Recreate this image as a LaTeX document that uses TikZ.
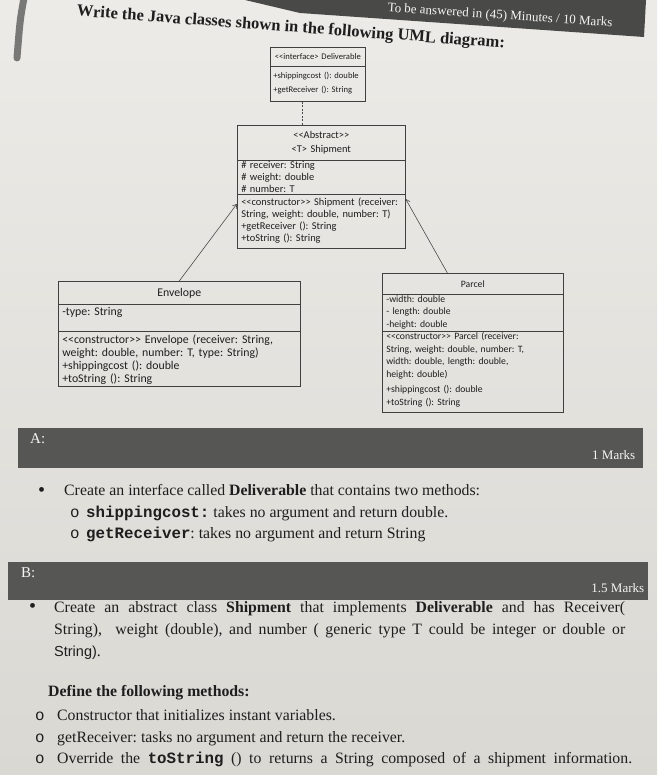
\documentclass[tikz,border=0pt]{standalone}
\usepackage{fontspec}
\setmainfont{Liberation Serif}
\setsansfont{Liberation Sans}
\setmonofont{Liberation Mono}
\newfontfamily\umlfont{Carlito}
\usetikzlibrary{shapes.multipart,arrows.meta,calc}
\definecolor{paperhi}{HTML}{ECEBE7}
\definecolor{paperlo}{HTML}{D9D8D3}
\definecolor{barcol}{HTML}{565654}
\definecolor{ink}{HTML}{1E1E1E}
\frenchspacing
\newcommand{\codeword}[1]{{\ttfamily\bfseries #1}}
\newcommand{\umlsize}[2]{\umlfont\fontsize{#1}{#2}\selectfont}
% one size per class box (set again in every part)
\newcommand{\dlvf}{\umlsize{8.6}{14}}
\newcommand{\shpf}{\umlsize{10.4}{12}}
\newcommand{\envf}{\umlsize{11.8}{13}}
\newcommand{\prcf}{\umlsize{9.7}{12.5}}
\newcommand{\umlmid}[1]{\makebox[\hsize]{#1}}
\tikzset{
  umlclass/.style={rectangle split, rectangle split parts=3, draw=ink!85, line width=0.6pt,
    text=ink, align=left, inner xsep=4pt, inner ysep=1.5pt, anchor=north west},
  marksbar/.style={fill=barcol, anchor=north west, inner sep=0pt},
  barlabel/.style={text=white!92!gray, inner sep=0pt},
  bodytext/.style={text=ink, font=\fontsize{15.8}{22}\selectfont, anchor=base west, inner sep=0pt},
  inherit/.style={draw=ink!80, line width=0.6pt, -{Straight Barb[length=4pt,width=5pt]}},
}
\begin{document}
\begin{tikzpicture}[x=1pt,y=-1pt]
\useasboundingbox (0,0) rectangle (657,775);
\shade[top color=paperhi, bottom color=paperlo] (0,0) rectangle (657,775);
% edge of the page
\draw[line width=7pt, barcol!80, line cap=round] (24,-2) .. controls (20,20) .. (17,58);
% header strip
\fill[barcol!85!black] (245,0) -- (646,0) -- (644,37) -- (300,13) -- cycle;
\node[rotate=-3.8, barlabel, font=\fontsize{13}{15}\selectfont] (time) at (500,16) {To be answered in (45) Minutes / 10 Marks};
\node[rotate=-4.3, text=ink, font=\bfseries\fontsize{16.5}{18}\selectfont] (title) at (291,28) {Write the Java classes shown in the following UML diagram:};

% UML diagram
\node[umlclass, rectangle split parts=2, inner xsep=3pt, text width=89pt, font=\dlvf] (dlv) at (270,47)
  {\umlmid{\rule{0pt}{10pt}<<interface> Deliverable\rule[-5pt]{0pt}{5pt}}
   \nodepart{second}\dlvf\rule{0pt}{11pt}\mbox{+shippingcost (): double}\\ \mbox{+getReceiver (): String}\rule[-7pt]{0pt}{7pt}};
\node[umlclass, text width=160pt, font=\shpf] (shp) at (237,125)
  {\umlmid{\rule{0pt}{11pt}<<Abstract>>}\\[2pt] \umlmid{<T> Shipment\rule[-6pt]{0pt}{6pt}}
   \nodepart{second}\shpf\baselineskip=11.5pt \# receiver: String\\ \# weight: double\\ \# number: T
   \nodepart{third}\shpf\rule{0pt}{9pt}<<constructor>> Shipment (receiver:\\ String, weight: double, number: T)\\ +getReceiver (): String\\ +toString (): String\rule[-5pt]{0pt}{5pt}};
\node[umlclass, text width=234pt, font=\envf] (envp) at (58,281)
  {\umlmid{\rule{0pt}{13pt}Envelope\rule[-6pt]{0pt}{6pt}}
   \nodepart{second}\envf\rule{0pt}{10pt}-type: String\rule[-14pt]{0pt}{14pt}
   \nodepart{third}\envf\rule{0pt}{10pt}<<constructor>> Envelope (receiver: String,\\ weight: double, number: T, type: String)\\ +shippingcost (): double\\ +toString (): String};
\node[umlclass, text width=173pt, font=\prcf] (prc) at (382,273)
  {\umlmid{\rule{0pt}{12pt}Parcel\rule[-5pt]{0pt}{5pt}}
   \nodepart{second}\prcf -width: double\\ - length: double\\ -height: double
   \nodepart{third}\prcf <<constructor>> Parcel (receiver:\\ String, weight: double, number: T,\\ width: double, length: double,\\ height: double)\\[3pt] +shippingcost (): double\\ +toString (): String\rule[-5pt]{0pt}{5pt}};
\draw[dash pattern=on 2pt off 1.5pt, ink!80, line width=0.6pt] ($(dlv.south west)!0.34!(dlv.south east)$) coordinate (dtop) -- (dtop |- shp.north);
\draw[inherit] (envp.north) -- ($(shp.south west)!0.36!(shp.north west)$);
\draw[inherit] ($(prc.north west)!0.36!(prc.north east)$) -- ($(shp.south east)!0.4!(shp.north east)$);

% part A
\node[marksbar, minimum width=625pt, minimum height=40pt] (barA) at (18,428) {};
\node[barlabel, font=\fontsize{15}{17}\selectfont, anchor=north west] (labA) at ($(barA.north west)+(12,5)$) {A:};
\node[barlabel, font=\fontsize{13}{15}\selectfont, anchor=south east] (marksA) at ($(barA.south east)+(-8,-9)$) {1 Marks};
\node[bodytext, font=\fontsize{20}{22}\selectfont] (bulA) at (38,496) {\textbullet};
\node[bodytext] (itemA) at (64,495) {Create an interface called \textbf{Deliverable} that contains two methods:};
\node[bodytext] (oA1) at (70,517) {\ttfamily o};
\node[bodytext] (subA1) at (86,517) {\codeword{shippingcost:} takes no argument and return double.};
\node[bodytext] (oA2) at (70,538) {\ttfamily o};
\node[bodytext] (subA2) at (86,538) {\codeword{getReceiver}: takes no argument and return String};

% part B
\node[marksbar, minimum width=640pt, minimum height=38pt] (barB) at (8,562) {};
\node[barlabel, font=\fontsize{15}{17}\selectfont, anchor=north west] (labB) at ($(barB.north west)+(13,5)$) {B:};
\node[barlabel, font=\fontsize{13}{15}\selectfont, anchor=south east] (marksB) at ($(barB.south east)+(-4,-8)$) {1.5 Marks};
\node[bodytext, font=\fontsize{20}{22}\selectfont] (bulB) at (29,612) {\textbullet};
\node[bodytext, anchor=north west, text width=571pt, align=justify] (itemB) at (54,601)
  {Create an abstract class \textbf{Shipment} that implements \textbf{Deliverable} and has Receiver(\linebreak
   String),\ \ weight (double), and number ( generic type T could be integer or double or\linebreak
   {\sffamily\fontsize{14.5}{22}\selectfont String)}.};
\node[bodytext] (defB) at (48,696) {\textbf{Define the following methods:}};
\node[bodytext] (oB1) at (35,720) {\ttfamily o};
\node[bodytext] (subB1) at (57,720) {Constructor that initializes instant variables.};
\node[bodytext] (oB2) at (35,742) {\ttfamily o};
\node[bodytext] (subB2) at (57,742) {getReceiver: tasks no argument and return the receiver.};
\node[bodytext] (oB3) at (35,763) {\ttfamily o};
\node[bodytext] (subB3) at (57,763) {\makebox[575pt][s]{Override the \codeword{toString} () to returns a String composed of a shipment information.}};
\end{tikzpicture}
\end{document}
